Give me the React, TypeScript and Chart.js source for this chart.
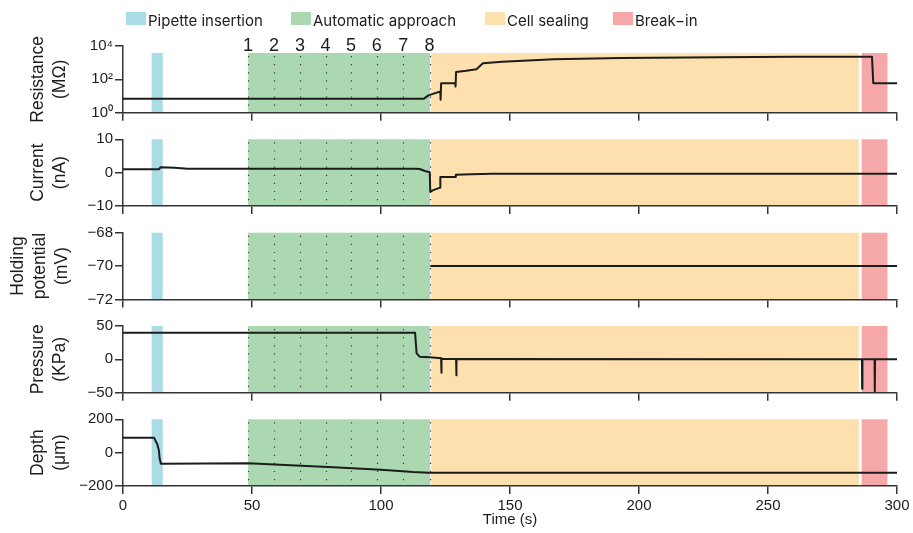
import React, { useEffect, useRef } from 'react';
import { Chart, registerables } from 'chart.js';

Chart.register(...registerables);

// ---------------- data ----------------
const timeTicks = [0, 50, 100, 150, 200, 250, 300];

const bandLabels = ['Pipette insertion', 'Automatic approach', 'Cell sealing', 'Break\u2212in'];
const bandStart = [11.1, 48.5, 119.4, 286.3];
const bandEnd = [15.4, 119.0, 285.2, 296.3];

const approachSteps = ['1', '2', '3', '4', '5', '6', '7', '8'];
const approachTimes = [48.5, 58.5, 68.6, 78.5, 88.4, 98.4, 108.6, 118.8];

const resistanceTime = [0, 116.5, 118.4, 121, 123.0, 123.1, 123.3, 128.8, 128.9, 129.1, 133, 137, 139.5, 147, 167, 193, 231, 260, 290.3, 290.8, 300];
const resistanceValue = [6.8, 6.8, 11, 15, 18.7, 6, 59, 59, 37, 280, 330, 406, 927, 1155, 1606, 1922, 2115, 2297, 2297, 59, 59];
const resistanceTicks = [1, 100, 10000];
const resistanceTickLabels = ['10\u2070', '10\u00b2', '10\u2074'];
const resistanceBandTop = 3800;

const currentTime = [0, 13.9, 14.5, 20, 25, 113, 115, 117, 118.9, 119.1, 120, 122.9, 123.0, 128.8, 129.0, 135, 143, 300];
const currentValue = [1.0, 1.0, 1.6, 1.5, 1.2, 1.2, 1.1, 0.5, 0.1, -5.8, -5.3, -4.5, -1.3, -1.3, -0.65, -0.45, -0.3, -0.3];
const currentTicks = [-10, 0, 10];

const holdingTime = [119.1, 300];
const holdingValue = [-70, -70];
const holdingTicks = [-72, -70, -68];

const pressureTime = [0, 113.2, 113.8, 115, 119, 123.3, 123.4, 123.5, 129.1, 129.2, 129.3, 286.4, 286.5, 286.6, 291.3, 291.4, 291.5, 300];
const pressureValue = [40, 40, 9, 4, 3, 1.5, -20, 1, 0.5, -24, 0.5, 0, -44, 0, 0, -48, 0, 0];
const pressureTicks = [-50, 0, 50];

const depthTime = [0, 12.0, 13.3, 13.9, 14.2, 14.7, 48.5, 65, 81.5, 100, 112.5, 118.5, 300];
const depthValue = [90, 90, 50, 15, -35, -66, -64, -75, -88, -103, -116, -120, -120];
const depthTicks = [-200, 0, 200];

// ---------------- styles / layout ----------------
const W = 913;
const H = 533;
const PLOT_LEFT = 123;
const PLOT_RIGHT = 897;
const PANEL_TOPS = [46, 139.3, 232.7, 326, 419.3];
const PANEL_H = 66.7;
const X_AXIS_H = 45;
const BAND_COLORS = ['#a9dce5', '#abd8b1', '#fee0ae', '#f6a8a9'];
const LEGEND_LEFTS = [126, 291, 485, 613];
const FONT = '"Liberation Sans", Arial, Helvetica, sans-serif';
const INK = '#1c1c1c';
const AXIS = '#333333';

const fmt = (v: number) => (v < 0 ? '\u2212' + Math.abs(v) : String(v));

type PanelDef = {
  title: string[];
  titlePad: number;
  type: 'linear' | 'logarithmic';
  ticks: number[];
  labels?: string[];
  t: number[];
  v: number[];
  bandTop?: number;
};

const panels: PanelDef[] = [
  { title: ['Resistance', '(M\u03a9)'], titlePad: 27, type: 'logarithmic', ticks: resistanceTicks, labels: resistanceTickLabels, t: resistanceTime, v: resistanceValue, bandTop: resistanceBandTop },
  { title: ['Current', '(nA)'], titlePad: 27, type: 'linear', ticks: currentTicks, t: currentTime, v: currentValue },
  { title: ['Holding', 'potential', '(mV)'], titlePad: 7.5, type: 'linear', ticks: holdingTicks, t: holdingTime, v: holdingValue },
  { title: ['Pressure', '(KPa)'], titlePad: 27, type: 'linear', ticks: pressureTicks, t: pressureTime, v: pressureValue },
  { title: ['Depth', '(\u03bcm)'], titlePad: 27, type: 'linear', ticks: depthTicks, t: depthTime, v: depthValue },
];

function Panel({ index }: { index: number }) {
  const ref = useRef<HTMLCanvasElement | null>(null);
  useEffect(() => {
    const p = panels[index];
    const isBottom = index === panels.length - 1;
    const top = PANEL_TOPS[index];
    const bottomPad = H - (top + PANEL_H) - X_AXIS_H;

    const bandPlugin = {
      id: 'bands' + index,
      beforeDraw(chart: any) {
        const { ctx, chartArea, scales } = chart;
        const xs = scales.x;
        const ys = scales.y;
        const yTop = p.bandTop != null ? ys.getPixelForValue(p.bandTop) : chartArea.top;
        const yBot = chartArea.bottom;
        ctx.save();
        for (let i = 0; i < bandStart.length; i++) {
          const x0 = xs.getPixelForValue(bandStart[i]);
          const x1 = xs.getPixelForValue(bandEnd[i]);
          ctx.fillStyle = BAND_COLORS[i];
          ctx.fillRect(x0, yTop, x1 - x0, yBot - yTop);
        }
        ctx.strokeStyle = '#3a3a3a';
        ctx.lineWidth = 1.2;
        ctx.setLineDash([1.2, 6.9]);
        for (let i = 0; i < approachTimes.length; i++) {
          const x = Math.round(xs.getPixelForValue(approachTimes[i])) + 0.5;
          ctx.beginPath();
          ctx.moveTo(x, yTop + 3);
          ctx.lineTo(x, yBot);
          ctx.stroke();
        }
        ctx.restore();
      },
      afterDraw(chart: any) {
        if (index !== 0) return;
        const { ctx, chartArea, scales } = chart;
        ctx.save();
        ctx.font = '18px ' + FONT;
        ctx.fillStyle = INK;
        ctx.textAlign = 'center';
        ctx.textBaseline = 'alphabetic';
        for (let i = 0; i < approachSteps.length; i++) {
          ctx.fillText(approachSteps[i], scales.x.getPixelForValue(approachTimes[i]), chartArea.top + 5);
        }
        ctx.restore();
      },
    };

    const chart = new Chart(ref.current as HTMLCanvasElement, {
      type: 'line',
      data: {
        datasets: [
          {
            data: p.t.map((x, i) => ({ x, y: p.v[i] })),
            borderColor: INK,
            borderWidth: 2,
            pointRadius: 0,
            tension: 0,
            fill: false,
            borderJoinStyle: 'round',
          },
        ],
      },
      options: {
        animation: false,
        responsive: false,
        devicePixelRatio: 1,
        events: [],
        layout: { autoPadding: false, padding: { left: 0, right: W - PLOT_RIGHT, top, bottom: bottomPad } },
        plugins: { legend: { display: false }, tooltip: { enabled: false } },
        scales: {
          x: {
            type: 'linear',
            min: 0,
            max: 300,
            afterBuildTicks: (s: any) => {
              s.ticks = timeTicks.map((value) => ({ value }));
            },
            afterFit: (s: any) => {
              s.height = X_AXIS_H;
              s.paddingLeft = 0;
              s.paddingRight = 0;
            },
            grid: { drawOnChartArea: false, drawTicks: true, tickLength: 8, color: AXIS, lineWidth: 1.5 },
            border: { display: true, color: AXIS, width: 1.5 },
            ticks: {
              display: isBottom,
              padding: 3,
              maxRotation: 0,
              autoSkip: false,
              color: INK,
              font: { family: FONT, size: 15 },
              callback: (v: any) => fmt(Number(v)),
            },
            title: {
              display: isBottom,
              text: 'Time (s)',
              color: INK,
              font: { family: FONT, size: 15, lineHeight: 1.2 },
              padding: { top: 0, bottom: 2 },
            },
          },
          y: {
            type: p.type,
            min: p.ticks[0],
            max: p.ticks[p.ticks.length - 1],
            afterBuildTicks: (s: any) => {
              s.ticks = p.ticks.map((value) => ({ value }));
            },
            afterFit: (s: any) => {
              s.width = PLOT_LEFT;
              s.paddingTop = 0;
              s.paddingBottom = 0;
            },
            grid: { drawOnChartArea: false, drawTicks: true, tickLength: 8, color: AXIS, lineWidth: 1.5 },
            border: { display: true, color: AXIS, width: 1.5 },
            ticks: {
              padding: 2,
              autoSkip: false,
              color: INK,
              font: { family: FONT, size: 15 },
              callback: (v: any) => {
                const n = Number(v);
                if (p.labels) {
                  const k = p.ticks.indexOf(n);
                  return k >= 0 ? p.labels[k] : '';
                }
                return fmt(n);
              },
            },
            title: {
              display: true,
              text: p.title,
              color: INK,
              font: { family: FONT, size: 17.5, lineHeight: 1.26 },
              padding: { top: p.titlePad, bottom: 0 },
            },
          },
        },
      },
      plugins: [bandPlugin],
    } as any);
    return () => chart.destroy();
  }, [index]);
  return (
    <canvas
      ref={ref}
      width={W}
      height={H}
      style={{ position: 'absolute', left: 0, top: 0, width: W, height: H, pointerEvents: 'none' }}
    />
  );
}

export default function App() {
  return (
    <div style={{ position: 'absolute', left: 0, top: 0, width: W, height: H, background: '#ffffff', overflow: 'hidden' }}>
      {panels.map((_, i) => (
        <Panel key={i} index={i} />
      ))}
      {bandLabels.map((label, i) => (
        <React.Fragment key={label}>
          <div
            style={{
              position: 'absolute',
              left: LEGEND_LEFTS[i],
              top: 11.5,
              width: 20,
              height: 13,
              background: BAND_COLORS[i],
            }}
          />
          <div
            style={{
              position: 'absolute',
              left: LEGEND_LEFTS[i] + 22,
              top: 10.5,
              fontFamily: 'Inter, "Liberation Sans", Arial, sans-serif',
              fontSize: 15,
              lineHeight: '20px',
              color: INK,
              whiteSpace: 'nowrap',
            }}
          >
            {label}
          </div>
        </React.Fragment>
      ))}
    </div>
  );
}
